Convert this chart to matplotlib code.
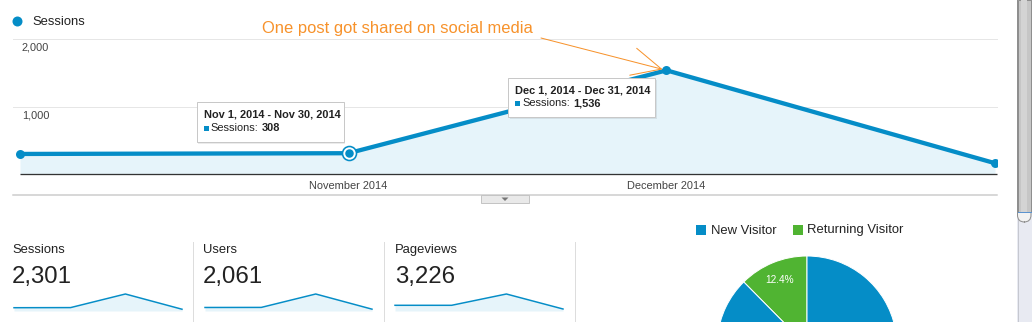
import matplotlib
matplotlib.use("Agg")
import matplotlib.pyplot as plt
import matplotlib.dates as mdates
from matplotlib.patches import Rectangle, FancyBboxPatch, Polygon
from matplotlib.lines import Line2D
from matplotlib.transforms import IdentityTransform
from datetime import date

plt.rcParams["font.family"] = ["Liberation Sans", "DejaVu Sans"]

# ---- data -------------------------------------------------------------
months = [date(2014, 10, 1), date(2014, 11, 1), date(2014, 12, 1), date(2015, 1, 1)]
period_labels = ["Oct 1, 2014 - Oct 31, 2014", "Nov 1, 2014 - Nov 30, 2014",
                 "Dec 1, 2014 - Dec 31, 2014", "Jan 1, 2015 - Jan 31, 2015"]
sessions = [297, 308, 1536, 160]
users = [280, 285, 1350, 146]
pageviews = [605, 604, 1804, 213]

x_tick_months = [months[1], months[2]]
x_tick_labels = ["November 2014", "December 2014"]
y_ticks = [1000, 2000]

visitor_types = ["New Visitor", "Returning Visitor"]
visitor_share = [87.6, 12.4]

tooltip_points = [1, 2]
annotation_text = "One post got shared on social media"

# ---- style ------------------------------------------------------------
W, H = 1032, 322
PT = 0.72  # points per pixel at 100 dpi
BLUE = "#058DC7"
FILL = "#E6F4FA"
GREEN = "#50B432"
ORANGE = "#F7922B"
TEXT = "#222222"

fig = plt.figure(figsize=(W / 100, H / 100), dpi=100)
fig.patch.set_facecolor("white")


def fxy(x, y):
    """top-left pixel position -> figure fraction"""
    return x / W, 1 - y / H


def axes_px(l, t, r, b):
    return fig.add_axes([l / W, 1 - b / H, (r - l) / W, (b - t) / H])


def fig_rect(l, t, r, b, **kw):
    p = Rectangle(fxy(l, b), (r - l) / W, (b - t) / H, transform=fig.transFigure, **kw)
    fig.add_artist(p)
    return p


def fig_line(x0, y0, x1, y1, **kw):
    a, b = fxy(x0, y0)
    c, d = fxy(x1, y1)
    fig.add_artist(Line2D([a, c], [b, d], transform=fig.transFigure, **kw))


def fig_text(x, y, s, size_px, **kw):
    kw.setdefault("va", "center")
    kw.setdefault("ha", "left")
    kw.setdefault("color", TEXT)
    return fig.text(*fxy(x, y), s, fontsize=size_px * PT, **kw)


# ---- main session chart -------------------------------------------------
ax = axes_px(13, 39, 997, 174)
xnum = mdates.date2num(months)
ppd = (995 - 20) / (xnum[-1] - xnum[0])
ax.set_xlim(xnum[0] - 7 / ppd, xnum[-1] + 2 / ppd)
ax.set_ylim(0, 2000)
for s in ax.spines.values():
    s.set_visible(False)
ax.set_yticks([])
ax.patch.set_alpha(0)

for v in y_ticks:
    ax.axhline(v, color="#E6E6E6", lw=1 * PT, clip_on=False, zorder=0)
    ax.annotate(f"{v:,}", xy=(0, v), xycoords=("axes fraction", "data"),
                xytext=(9, -9), textcoords="offset pixels",
                ha="left", va="center", fontsize=11 * PT, color="#444444")

ax.fill_between(xnum, sessions, 0, color=FILL, lw=0, zorder=1)
ax.hlines(0, xnum[0], ax.get_xlim()[1], color="#333333", lw=1.3 * PT, zorder=2, clip_on=False)
ax.plot(xnum, sessions, color=BLUE, lw=4.3 * PT, zorder=3, solid_joinstyle="round")
ax.plot(xnum, sessions, "o", color=BLUE, ms=9 * PT, mew=0, zorder=4)

hover = tooltip_points[0]
ax.plot(xnum[hover], sessions[hover], "o", ms=14 * PT, mfc="white", mec=BLUE,
        mew=1.6 * PT, zorder=5)
ax.plot(xnum[hover], sessions[hover], "o", ms=8.5 * PT, color=BLUE, mew=0, zorder=6)

ax.set_xticks(mdates.date2num(x_tick_months))
ax.set_xticklabels(x_tick_labels)
ax.tick_params(axis="x", length=0, pad=7 * PT, labelsize=11 * PT, labelcolor="#444444")

# legend
fig.add_artist(Line2D([fxy(17, 21)[0]], [fxy(17, 21)[1]], marker="o", ms=10 * PT,
                      color=BLUE, mew=0, transform=fig.transFigure))
fig_text(32, 22, "Sessions", 13)

# tooltips anchored to their points
renderer = fig.canvas.get_renderer()
offsets = {1: (-152, -51, -5, -11, 12, 26), 2: (-158, 8, -11, 47, 12, 25)}
for i in tooltip_points:
    X, Yb = ax.transData.transform((xnum[i], sessions[i]))
    px, py = X, H - Yb
    l, t, r, b, ty1, ty2 = offsets[i]
    L, T, R, B = px + l, py + t, px + r, py + b
    fig_rect(L + 1.5, T + 1.5, R + 1.5, B + 1.5, facecolor="#000000", alpha=0.08,
             lw=0, zorder=20)
    fig_rect(L, T, R, B, facecolor="white", edgecolor="#C8C8C8", lw=1 * PT, zorder=21)
    fig_text(L + 7, T + ty1, period_labels[i], 11, fontweight="bold", zorder=22)
    fig_rect(L + 7, T + ty2 - 2.5, L + 12, T + ty2 + 2.5, facecolor=BLUE, lw=0, zorder=22)
    t1 = fig_text(L + 14, T + ty2, "Sessions:", 11, zorder=22)
    ext = t1.get_window_extent(renderer)
    fig_text(ext.x1 + 3, T + ty2, f"{sessions[i]:,}", 11, fontweight="bold", zorder=22)

# orange note with arrow to the peak
peak = sessions.index(max(sessions))
fig_text(262, 28, annotation_text, 16.5, color=ORANGE)
ax.annotate("", xy=(xnum[peak], sessions[peak]), xycoords="data",
            xytext=fxy(541, 38), textcoords="figure fraction",
            annotation_clip=False,
            arrowprops=dict(arrowstyle="->,head_length=2.1,head_width=1.0",
                            color=ORANGE, lw=1 * PT, shrinkA=0, shrinkB=4 * PT,
                            mutation_scale=10, clip_on=False))

# separator line and collapse tab
fig_line(13, 195, 997, 195, color="#CCCCCC", lw=1.5 * PT)
fig_rect(481, 195, 529, 203, facecolor="#E9E9E9", edgecolor="#C4C4C4", lw=1 * PT, zorder=5)
tri = Polygon([fxy(501.5, 197.5), fxy(508.5, 197.5), fxy(505, 201)], closed=True,
              transform=fig.transFigure, facecolor="#777777", lw=0, zorder=6)
fig.add_artist(tri)

# ---- summary metrics with sparklines -----------------------------------
metrics = [("Sessions", sessions, 12, 14, 182),
           ("Users", users, 203, 205, 372),
           ("Pageviews", pageviews, 395, 395, 563)]
for name, vals, tx, sl, sr in metrics:
    fig_text(tx, 250, name, 13)
    fig_text(tx, 277, f"{sum(vals):,}", 24)
    sax = axes_px(sl, 294, sr, 311)
    sax.fill_between(xnum, vals, 0, color=FILL, lw=0)
    sax.plot(xnum, vals, color=BLUE, lw=1.5 * PT, clip_on=False)
    sax.set_xlim(xnum[0], xnum[-1])
    sax.set_ylim(0, max(vals))
    sax.axis("off")

for xs in (193, 384, 575):
    fig_line(xs, 242, xs, 322, color="#DDDDDD", lw=1 * PT)

# ---- visitor pie -------------------------------------------------------
pax = axes_px(717, 256, 897, 436)
wedges, _, autotexts = pax.pie(visitor_share[::-1], colors=[GREEN, BLUE], startangle=90,
                               counterclock=True, autopct="%.1f%%", pctdistance=0.79,
                               wedgeprops=dict(edgecolor="white", lw=1 * PT),
                               textprops=dict(color="white", fontsize=10 * PT))
# the New Visitor share label sits below the visible area
autotexts[1].set_visible(False)
pax.set_xlim(-1, 1)
pax.set_ylim(-1, 1)
pax.set_aspect("equal")
pax.axis("off")

fig_rect(696, 225, 706, 235, facecolor=BLUE, lw=0)
fig_text(711, 230.5, visitor_types[0], 13)
fig_rect(793, 225, 803, 235, facecolor=GREEN, lw=0)
fig_text(807, 230.5, visitor_types[1], 13)

# ---- scrollbar ---------------------------------------------------------
fig_rect(1017, 0, 1032, 322, facecolor="#E8EAF2", lw=0, zorder=30)
fig_line(1017.5, 0, 1017.5, 322, color="#C6C8D0", lw=1 * PT, zorder=31)
cap = FancyBboxPatch((1017.5, H - 222), 13.5, 240, boxstyle="round,pad=0,rounding_size=7",
                     transform=IdentityTransform(), facecolor="#F2F2F2",
                     edgecolor="#8E8E8E", lw=1 * PT, zorder=32)
fig.add_artist(cap)
fig_rect(1017.5, 0, 1031, 212, facecolor="#C6C6C6", edgecolor="#8E8E8E", lw=1 * PT, zorder=33)
fig_rect(1021, 0, 1027, 212, facecolor="#D4D4D4", lw=0, zorder=34)
fig_line(1017.5, 212, 1031, 212, color="#5B93CF", lw=1 * PT, zorder=35)

fig.savefig("out.png", dpi=100, facecolor="white")
